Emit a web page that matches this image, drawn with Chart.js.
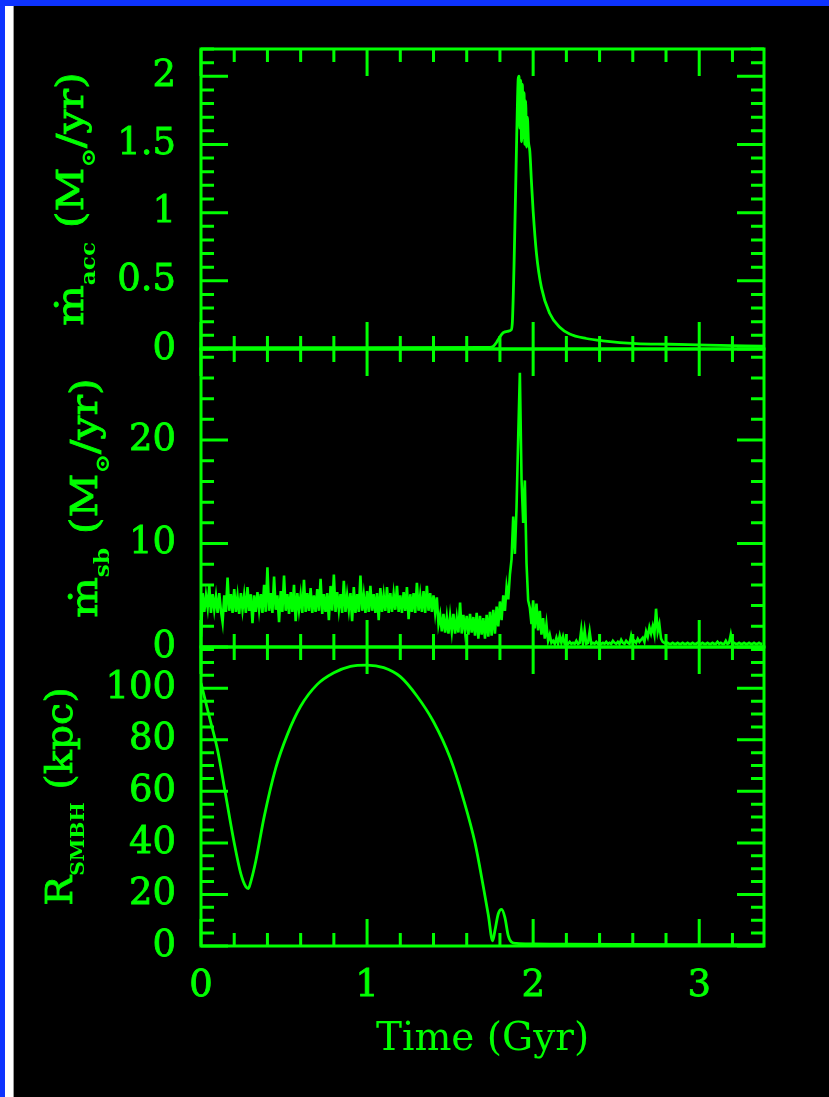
<!DOCTYPE html>
<html>
<head>
<meta charset="utf-8">
<script src="https://cdn.jsdelivr.net/npm/chart.js@4.4.1/dist/chart.umd.min.js"></script>
<style>
html,body{margin:0;padding:0;background:#000;width:829px;height:1097px;overflow:hidden;}
#frameTop{position:absolute;left:0;top:0;width:829px;height:6px;background:#0d33ff;}
#frameLeft{position:absolute;left:0;top:0;width:5px;height:1097px;background:#0d33ff;}
#frameWhite{position:absolute;left:5px;top:6px;width:8px;height:1091px;background:#fff;}
#frameGray{position:absolute;left:13px;top:6px;width:1px;height:1091px;background:#9a9a9a;}
canvas{position:absolute;left:0;}
</style>
</head>
<body>
<div id="frameTop"></div><div id="frameLeft"></div><div id="frameWhite"></div><div id="frameGray"></div>
<canvas id="c1" width="829" height="370" style="top:0px;width:829px;height:370px"></canvas>
<canvas id="c2" width="829" height="340" style="top:330px;width:829px;height:340px"></canvas>
<canvas id="c3" width="829" height="467" style="top:630px;width:829px;height:467px"></canvas>
<script>
// ---------------- data ----------------
const timeTicks = [0, 1, 2, 3];
const accTicks = [0, 0.5, 1, 1.5, 2];
const sbTicks = [0, 10, 20];
const rTicks = [0, 20, 40, 60, 80, 100];

const xLabel = 'Time (Gyr)';
const accTitle = [['ṁ', 0], ['acc', 1], [' (M', 0], ['⊙', 1], ['/yr)', 0]];
const sbTitle = [['ṁ', 0], ['sb', 1], [' (M', 0], ['⊙', 1], ['/yr)', 0]];
const rTitle = [['R', 0], ['SMBH', 1], [' (kpc)', 0]];

// accretion rate onto the SMBH (Msun/yr)
const accTime = [0, 1.0, 1.74, 1.76, 1.78, 1.80, 1.82, 1.845, 1.868, 1.875, 1.88, 1.885, 1.89, 1.895, 1.90, 1.905, 1.91, 1.915, 1.92, 1.925, 1.93, 1.935, 1.94, 1.945, 1.95, 1.955, 1.96, 1.965, 1.972, 1.98, 1.99, 2.00, 2.02, 2.05, 2.10, 2.16, 2.22, 2.32, 2.42, 2.62, 2.82, 3.05, 3.39];
const accValues = [0.01, 0.01, 0.012, 0.02, 0.05, 0.09, 0.12, 0.13, 0.14, 0.2, 0.38, 0.62, 0.9, 1.2, 1.5, 1.78, 1.98, 2.0, 1.62, 1.97, 1.52, 1.94, 1.55, 1.88, 1.5, 1.82, 1.48, 1.7, 1.52, 1.45, 1.22, 1.01, 0.70, 0.45, 0.26, 0.16, 0.11, 0.077, 0.06, 0.04, 0.035, 0.028, 0.02];

// starburst rate (Msun/yr), sampled every 0.01 Gyr from t = 0
const sbStart = 0;
const sbStep = 0.01;
const sbValues = [
  1.0, 5.2, 3.4, 5.0, 3.8, 5.9, 3.3, 5.1, 3.6, 4.9, 3.3, 5.2, 3.5, 2.4, 5.0, 3.4, 6.7, 3.5, 5.1, 3.3,
  5.6, 3.4, 4.9, 3.2, 5.2, 3.6, 5.0, 3.3, 5.8, 3.5, 5.1, 2.3, 5.0, 3.4, 5.3, 3.6, 5.1, 3.3, 6.0, 3.4,
  7.7, 3.5, 5.2, 3.3, 6.8, 3.6, 5.0, 2.4, 5.4, 3.4, 6.9, 3.5, 5.1, 3.2, 5.3, 3.4, 6.0, 2.5, 5.2, 3.6,
  5.0, 3.3, 6.5, 3.4, 5.2, 3.5, 5.7, 3.3, 5.0, 3.4, 5.6, 3.5, 6.6, 3.2, 5.1, 3.4, 5.2, 2.6, 5.9, 3.5,
  7.0, 3.4, 5.3, 3.6, 5.1, 3.3, 6.4, 3.4, 5.0, 3.6, 5.2, 2.5, 5.8, 3.3, 5.1, 3.4, 6.9, 3.5, 5.0, 3.3,
  5.4, 3.4, 5.9, 3.5, 5.1, 3.3, 5.2, 2.6, 5.7, 3.4, 5.0, 3.5, 5.8, 3.3, 5.2, 3.4, 5.1, 3.6, 5.9, 3.4,
  5.0, 3.3, 5.3, 3.5, 5.8, 2.7, 5.1, 3.4, 5.2, 3.3, 6.2, 3.5, 5.0, 3.4, 5.4, 3.3, 5.9, 3.5, 5.2, 3.4,
  5.0, 3.3, 4.8, 2.2, 3.1, 1.5, 3.2, 1.4, 2.9, 1.3, 3.0, 1.5, 3.2, 1.3, 2.8, 1.4, 4.3, 1.3, 3.1, 1.5,
  3.0, 1.2, 3.2, 1.4, 2.9, 1.1, 3.3, 0.8, 3.0, 1.2, 2.8, 0.8, 3.1, 1.0, 3.4, 1.1, 3.6, 1.3, 3.9, 2.0,
  4.4, 2.6, 5.0, 3.5, 5.8, 4.6, 7.0, 8.5, 12.6, 9.0, 13.5, 20.3, 26.5, 16.2, 12.0, 16.1, 8.1, 4.5, 3.8, 2.2,
  4.5, 1.8, 4.2, 1.6, 3.5, 1.2, 2.8, 0.8, 2.2, 0.6, 1.2, 0.4, 0.6, 0.3, 0.9, 0.3, 1.1, 0.4, 1.0, 0.3,
  0.4, 0.3, 0.5, 0.3, 0.4, 0.3, 0.6, 0.3, 0.4, 1.7, 0.3, 1.6, 0.3, 0.4, 1.5, 0.3, 0.4, 0.3, 0.5, 0.3,
  0.4, 0.3, 0.4, 0.3, 0.5, 0.3, 0.4, 0.3, 0.6, 0.4, 0.3, 0.5, 0.3, 0.7, 0.4, 0.3, 0.6, 0.4, 0.3, 1.1,
  0.4, 0.6, 0.4, 0.8, 0.5, 0.7, 0.9, 0.5, 1.5, 1.0, 1.9, 1.3, 2.0, 1.2, 3.7, 1.5, 2.2, 0.8, 0.5, 0.4,
  0.3, 0.4, 0.3, 0.3, 0.4, 0.3, 0.3, 0.4, 0.3, 0.3, 0.4, 0.3, 0.3, 0.4, 0.3, 0.3, 0.4, 0.3, 0.3, 0.4,
  0.3, 0.3, 0.4, 0.3, 0.3, 0.4, 0.3, 0.3, 0.4, 0.3, 0.3, 0.5, 0.3, 0.4, 0.3, 0.3, 0.6, 0.3, 0.4, 1.2,
  0.3, 0.4, 0.3, 0.3, 0.4, 0.3, 0.3, 0.4, 0.3, 0.3, 0.4, 0.3, 0.3, 0.4, 0.3, 0.3, 0.4, 0.3, 0.3
];

// SMBH distance from the centre (kpc)
const rTime = [0, 0.05, 0.10, 0.15, 0.20, 0.24, 0.27, 0.285, 0.30, 0.33, 0.38, 0.45, 0.52, 0.60, 0.70, 0.80, 0.90, 1.00, 1.10, 1.20, 1.30, 1.40, 1.50, 1.58, 1.65, 1.70, 1.73, 1.756, 1.77, 1.79, 1.81, 1.83, 1.85, 1.87, 1.90, 2.0, 2.2, 2.5, 3.0, 3.39];
const rValues = [102, 89, 76, 58, 40, 28, 23, 22.3, 25, 33, 50, 69, 82, 93, 101.5, 106, 108.5, 109, 108, 104.5, 97, 87, 73, 57, 40, 23, 12, 2, 6, 12.5, 14.2, 11, 4, 1.5, 1.0, 0.8, 0.7, 0.6, 0.5, 0.5];

// ---------------- style ----------------
const GREEN = 'rgb(0,255,0)';
const FONT = "'DejaVu Serif', serif";
const X_MIN = 0, X_MAX = 3.39, X_MINOR = 0.2, X_MAJOR = 1;
const MINOR_LEN = 13, MAJOR_LEN = 27;

function stepValues(min, max, step) {
  const out = [];
  const k0 = Math.ceil(min / step - 1e-9), k1 = Math.floor(max / step + 1e-9);
  for (let k = k0; k <= k1; k++) out.push(+(k * step).toFixed(6));
  return out;
}
function isMultiple(v, m) {
  const r = v / m;
  return Math.abs(r - Math.round(r)) < 1e-6;
}

function framePlugin(cfg) {
  return {
    id: 'frame_' + cfg.id,
    afterDatasetsDraw(chart) {
      const {ctx, chartArea: a, scales} = chart;
      const xs = scales.x, ys = scales.y;
      ctx.save();
      ctx.strokeStyle = GREEN;
      ctx.lineWidth = 3;
      ctx.lineCap = 'butt';
      ctx.beginPath();
      for (const v of stepValues(xs.min, xs.max, X_MINOR)) {
        const p = xs.getPixelForValue(v);
        const L = isMultiple(v, X_MAJOR) ? MAJOR_LEN : MINOR_LEN;
        ctx.moveTo(p, a.bottom); ctx.lineTo(p, a.bottom - L);
        ctx.moveTo(p, a.top); ctx.lineTo(p, a.top + L);
      }
      for (const v of stepValues(ys.min, ys.max, cfg.yMinor)) {
        const p = ys.getPixelForValue(v);
        const L = isMultiple(v, cfg.yMajor) ? MAJOR_LEN : MINOR_LEN;
        ctx.moveTo(a.left, p); ctx.lineTo(a.left + L, p);
        ctx.moveTo(a.right, p); ctx.lineTo(a.right - L, p);
      }
      ctx.stroke();
      ctx.strokeRect(a.left, a.top, a.right - a.left, a.bottom - a.top);
      ctx.restore();
    }
  };
}

function titlePlugin(cfg) {
  return {
    id: 'ytitle_' + cfg.id,
    afterDraw(chart) {
      const {ctx, chartArea: a} = chart;
      const cy = (a.top + a.bottom) / 2;
      const fontOf = seg => seg[1] ? ('bold ' + cfg.subSize + 'px ' + FONT) : (cfg.mainSize + 'px ' + FONT);
      ctx.save();
      ctx.translate(cfg.titleX, cy);
      ctx.rotate(-Math.PI / 2);
      ctx.scale(cfg.stretch, 1);
      ctx.fillStyle = GREEN;
      ctx.strokeStyle = GREEN;
      ctx.lineWidth = 0.8;
      ctx.textBaseline = 'alphabetic';
      ctx.textAlign = 'left';
      let total = 0;
      const widths = cfg.title.map(seg => {
        ctx.font = fontOf(seg);
        const w = ctx.measureText(seg[0]).width;
        total += w;
        return w;
      });
      let x = -total / 2;
      cfg.title.forEach((seg, i) => {
        ctx.font = fontOf(seg);
        const y = seg[1] ? cfg.subDrop : 0;
        ctx.fillText(seg[0], x, y);
        if (!seg[1]) ctx.strokeText(seg[0], x, y);
        x += widths[i];
      });
      ctx.restore();
    }
  };
}

function makeChart(cfg) {
  return new Chart(document.getElementById(cfg.id), {
    type: 'line',
    data: {
      datasets: [{
        data: cfg.points,
        borderColor: GREEN,
        borderWidth: cfg.lineWidth,
        pointRadius: 0,
        fill: false,
        tension: cfg.tension,
        cubicInterpolationMode: cfg.cubic
      }]
    },
    options: {
      responsive: false,
      animation: false,
      devicePixelRatio: 1,
      events: [],
      layout: {padding: {top: cfg.padTop, bottom: cfg.padBottom, left: 0, right: 65}},
      plugins: {legend: {display: false}, tooltip: {enabled: false}},
      scales: {
        x: {
          type: 'linear',
          min: X_MIN,
          max: X_MAX,
          display: cfg.showX,
          afterBuildTicks: s => { s.ticks = timeTicks.map(v => ({value: v})); },
          afterFit: s => {
            if (cfg.showX) s.height = 117;
            s.paddingLeft = 0; s.paddingRight = 0; s.paddingTop = 0; s.paddingBottom = 0;
          },
          grid: {display: false, drawTicks: false},
          border: {display: false},
          ticks: {
            color: GREEN,
            font: {family: FONT, size: 37},
            padding: 18,
            maxRotation: 0,
            autoSkip: false,
            textStrokeColor: GREEN,
            textStrokeWidth: 0.8,
            callback: v => String(v)
          },
          title: {
            display: cfg.showX,
            text: xLabel,
            color: GREEN,
            font: {family: FONT, size: 39},
            padding: {top: 0, bottom: 0}
          }
        },
        y: {
          type: 'linear',
          min: cfg.yMin,
          max: cfg.yMax,
          afterBuildTicks: s => { s.ticks = cfg.yTicks.map(v => ({value: v})); },
          afterFit: s => {
            s.width = 201;
            s.paddingTop = 0; s.paddingBottom = 0; s.paddingLeft = 0; s.paddingRight = 0;
          },
          grid: {display: false, drawTicks: false},
          border: {display: false},
          ticks: {
            color: GREEN,
            font: {family: FONT, size: 37},
            padding: 25,
            autoSkip: false,
            textStrokeColor: GREEN,
            textStrokeWidth: 0.8,
            callback: v => String(v)
          }
        }
      }
    },
    plugins: [framePlugin(cfg), titlePlugin(cfg)]
  });
}

const accPoints = accTime.map((t, i) => ({x: t, y: accValues[i]}));
const sbPoints = sbValues.map((v, i) => ({x: +(sbStart + i * sbStep).toFixed(4), y: v}));
const rPoints = rTime.map((t, i) => ({x: t, y: rValues[i]}));

makeChart({
  id: 'c1', points: accPoints, lineWidth: 2.8, tension: 0.4, cubic: 'monotone',
  padTop: 49, padBottom: 21, showX: false,
  yMin: 0, yMax: 2.2, yTicks: accTicks, yMinor: 0.1, yMajor: 0.5,
  title: accTitle, titleX: 83, stretch: 1.16, mainSize: 37, subSize: 20, subDrop: 12
});
makeChart({
  id: 'c2', points: sbPoints, lineWidth: 2.6, tension: 0, cubic: 'default',
  padTop: 19, padBottom: 23, showX: false,
  yMin: 0, yMax: 28.8, yTicks: sbTicks, yMinor: 2, yMajor: 10,
  title: sbTitle, titleX: 97, stretch: 1.16, mainSize: 37, subSize: 20, subDrop: 12
});
makeChart({
  id: 'c3', points: rPoints, lineWidth: 2.8, tension: 0.4, cubic: 'monotone',
  padTop: 17, padBottom: 34, showX: true,
  yMin: 0, yMax: 116, yTicks: rTicks, yMinor: 5, yMajor: 20,
  title: rTitle, titleX: 72, stretch: 1.07, mainSize: 37, subSize: 19, subDrop: 12
});
</script>
</body>
</html>
